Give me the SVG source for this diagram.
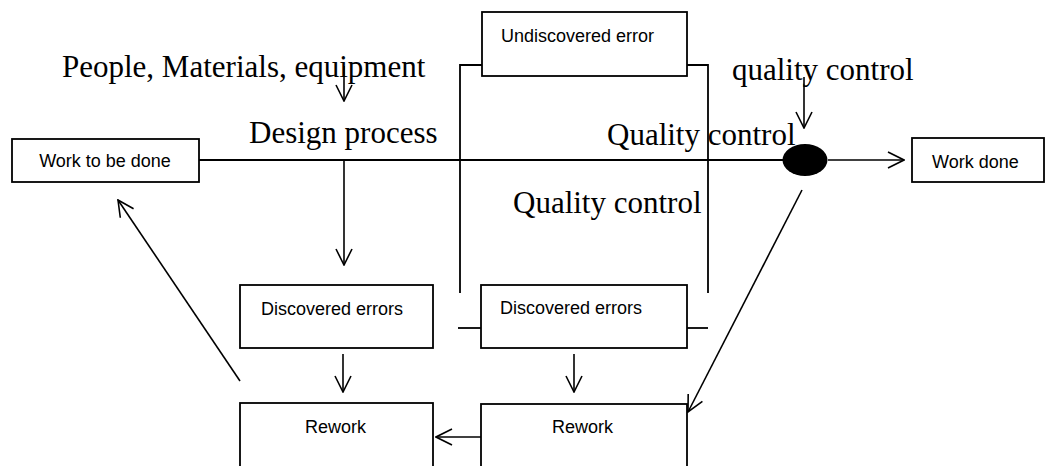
<svg xmlns="http://www.w3.org/2000/svg" width="1047" height="466" viewBox="0 0 1047 466">
  <style>
    .box { fill: #fff; stroke: #000; stroke-width: 1.8; }
    .lbl { font-family: "Liberation Sans", Arial, sans-serif; font-size: 18px; fill: #000; }
    .big { font-family: "Liberation Serif", "Times New Roman", serif; font-size: 31px; fill: #000; }
    .ln { fill: none; stroke: #000; stroke-width: 1.8; }
    .arr { fill: none; stroke: #000; stroke-width: 1.6; marker-end: url(#head); }
  </style>
  <defs>
    <marker id="head" viewBox="0 0 18 18" refX="17" refY="9" markerWidth="18" markerHeight="18" markerUnits="userSpaceOnUse" orient="auto">
      <path d="M1,1 L17,9 L1,17" fill="none" stroke="#000" stroke-width="1.6"/>
    </marker>
  </defs>
  <rect width="1047" height="466" fill="#fff"/>

  <!-- free-standing labels -->
  <g id="labels">
    <text class="big" x="62" y="77">People, Materials, equipment</text>
    <text class="big" x="249" y="143">Design process</text>
    <text class="big" x="732" y="80">quality control</text>
    <text class="big" x="607" y="145">Quality control</text>
    <text class="big" x="513" y="213">Quality control</text>
  </g>

  <!-- connectors -->
  <g id="connectors">
    <path class="ln" d="M199,160 H783"/>
    <path class="ln" d="M482,65 H460 V293"/>
    <path class="ln" d="M687,65 H708 V293"/>
    <path class="ln" d="M458,328 H481"/>
    <path class="ln" d="M687,328 H708"/>
    <path class="arr" d="M344,66 V101"/>
    <path class="arr" d="M344,160 V265"/>
    <path class="arr" d="M343,354 V392"/>
    <path class="arr" d="M574,354 V392"/>
    <path class="arr" d="M481,437 H436"/>
    <path class="arr" d="M240,381 L118,200"/>
    <path class="arr" d="M804,77 V128"/>
    <path class="arr" d="M828,160 H904"/>
    <path class="arr" d="M802,190 L688,412"/>
  </g>

  <!-- nodes -->
  <g id="work-to-be-done">
    <rect class="box" x="12" y="139" width="187" height="43"/>
    <text class="lbl" x="105" y="167" text-anchor="middle">Work to be done</text>
  </g>
  <g id="undiscovered-error">
    <rect class="box" x="482" y="12" width="205" height="64"/>
    <text class="lbl" x="501" y="42">Undiscovered error</text>
  </g>
  <g id="quality-gate">
    <ellipse cx="805" cy="160" rx="22.5" ry="16" fill="#000"/>
  </g>
  <g id="work-done">
    <rect class="box" x="912" y="138" width="132" height="44"/>
    <text class="lbl" x="932" y="168">Work done</text>
  </g>
  <g id="discovered-errors-1">
    <rect class="box" x="240" y="285" width="193" height="63"/>
    <text class="lbl" x="261" y="315">Discovered errors</text>
  </g>
  <g id="discovered-errors-2">
    <rect class="box" x="481" y="285" width="206" height="63"/>
    <text class="lbl" x="500" y="314">Discovered errors</text>
  </g>
  <g id="rework-1">
    <rect class="box" x="240" y="403" width="193" height="80"/>
    <text class="lbl" x="305" y="433">Rework</text>
  </g>
  <g id="rework-2">
    <rect class="box" x="481" y="404" width="206" height="80"/>
    <text class="lbl" x="552" y="433">Rework</text>
  </g>
</svg>
